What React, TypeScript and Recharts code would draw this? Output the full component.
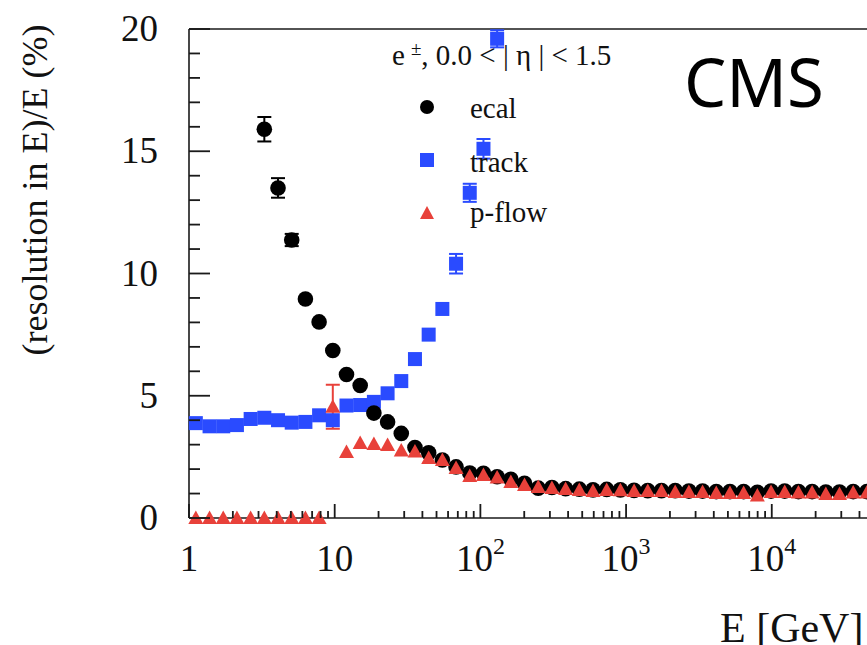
import React from "react";
import {
  ScatterChart,
  Scatter,
  XAxis,
  YAxis,
  ErrorBar,
  ReferenceLine,
  Legend,
} from "recharts";

// bin centres in E [GeV]
const energy = [
  1.114, 1.384, 1.718, 2.133, 2.649, 3.289, 4.083, 5.07, 6.295, 7.816,
  9.705, 12.05, 14.96, 18.58, 23.07, 28.64, 35.56, 44.16, 54.83, 68.08,
  84.53, 105, 130.3, 161.8, 200.9, 249.5, 309.7, 384.6, 477.5, 592.9,
  736.2, 914.1, 1135, 1409, 1750, 2173, 2698, 3350, 4159, 5164,
  6412, 7962, 9886, 12270, 15240, 18920, 23500, 29170, 36220, 44970,
];

const ecal = [
  null, null, null, null, null, 15.9, 13.5, 11.37, 8.96, 8.02,
  6.85, 5.87, 5.42, 4.29, 3.93, 3.46, 2.88, 2.67, 2.37, 2.09,
  1.84, 1.83, 1.69, 1.58, 1.42, 1.22, 1.25, 1.2, 1.18, 1.15,
  1.17, 1.15, 1.13, 1.12, 1.12, 1.12, 1.1, 1.1, 1.08, 1.08,
  1.08, 1.05, 1.1, 1.1, 1.08, 1.08, 1.06, 1.06, 1.08, 1.08,
];
const ecalErr = [
  0, 0, 0, 0, 0, 0.5, 0.4, 0.25, 0, 0,
  0, 0, 0, 0, 0, 0, 0, 0, 0, 0,
  0, 0, 0, 0, 0, 0, 0, 0, 0, 0,
  0, 0, 0, 0, 0, 0, 0, 0, 0, 0,
  0, 0, 0, 0, 0, 0, 0, 0, 0, 0,
];

const track = [
  3.88, 3.75, 3.75, 3.8, 4.05, 4.1, 4.0, 3.9, 3.93, 4.2,
  4.0, 4.6, 4.62, 4.75, 5.1, 5.6, 6.5, 7.5, 8.55, 10.4,
  13.3, 15.1, 19.6, null, null, null, null, null, null, null,
  null, null, null, null, null, null, null, null, null, null,
  null, null, null, null, null, null, null, null, null, null,
];
const trackErr = [
  0, 0, 0, 0, 0, 0, 0, 0, 0, 0,
  0, 0, 0, 0, 0, 0, 0, 0, 0, 0.4,
  0.37, 0.4, 0.35, 0, 0, 0, 0, 0, 0, 0,
  0, 0, 0, 0, 0, 0, 0, 0, 0, 0,
  0, 0, 0, 0, 0, 0, 0, 0, 0, 0,
];

const pflow = [
  0, 0, 0, 0, 0, 0, 0, 0, 0, 0,
  4.55, 2.7, 3.07, 3.03, 2.99, 2.76, 2.72, 2.45, 2.37, 2.05,
  1.72, 1.76, 1.66, 1.47, 1.35, 1.27, 1.23, 1.19, 1.15, 1.1,
  1.15, 1.13, 1.1, 1.1, 1.1, 1.06, 1.06, 1.06, 1.02, 1.02,
  1.02, 0.92, 1.06, 1.06, 1.04, 1.04, 0.98, 0.98, 1.04, 1.04,
];
const pflowErr = [
  0, 0, 0, 0, 0, 0, 0, 0, 0, 0,
  0.9, 0, 0, 0, 0, 0, 0, 0, 0, 0,
  0, 0, 0, 0, 0, 0, 0, 0, 0, 0,
  0, 0, 0, 0, 0, 0, 0, 0, 0, 0,
  0, 0, 0, 0, 0, 0, 0, 0, 0, 0,
];

const yTicks = [0, 1, 2, 3, 4, 5, 6, 7, 8, 9, 10, 11, 12, 13, 14, 15, 16, 17, 18, 19, 20];
const yMajor = [0, 5, 10, 15, 20];
const xTicks = [
  1, 2, 3, 4, 5, 6, 7, 8, 9,
  10, 20, 30, 40, 50, 60, 70, 80, 90,
  100, 200, 300, 400, 500, 600, 700, 800, 900,
  1000, 2000, 3000, 4000, 5000, 6000, 7000, 8000, 9000,
  10000, 20000, 30000, 40000,
];
const xMajor = [1, 10, 100, 1000, 10000];
const xExp = ["", "", "2", "3", "4"];

const BLUE = "#2a4bff";
const RED = "#e8413a";
const INK = "#1a1a1a";
const SERIF = "'Liberation Serif', 'Times New Roman', serif";
const AXIS_X = 189;
const AXIS_Y = 518;

const build = (vals: (number | null)[], errs: number[]) =>
  energy
    .map((e, i) => ({ e, v: vals[i], err: errs[i] }))
    .filter((d) => d.v !== null);

const dot = (p: any) => <circle cx={p.cx} cy={p.cy} r={7.8} fill="#000" />;
const box = (p: any) => (
  <rect x={p.cx - 7} y={p.cy - 7} width={14} height={14} fill={BLUE} />
);
const tri = (p: any) => (
  <polygon
    points={`${p.cx},${p.cy - 7.5} ${p.cx - 7.5},${p.cy + 6} ${p.cx + 7.5},${p.cy + 6}`}
    fill={RED}
  />
);

// tick marks point into the frame; major ones are longer
const renderXTick = (props: any) => {
  const { x, payload } = props;
  const i = xMajor.indexOf(payload.value);
  const major = i >= 0;
  return (
    <g>
      <rect x={x - 0.9} y={AXIS_Y - (major ? 14 : 7)} width={1.8} height={major ? 14 : 7} fill={INK} />
      {major && (
        <text x={x} y={571} textAnchor="middle" fontFamily={SERIF} fontSize={37} fill="#111">
          {i === 0 ? "1" : "10"}
          {xExp[i] && (
            <tspan dy={-17} fontSize={24}>
              {xExp[i]}
            </tspan>
          )}
        </text>
      )}
    </g>
  );
};

const renderYTick = (props: any) => {
  const { y, payload } = props;
  const major = yMajor.includes(payload.value);
  return (
    <g>
      <rect x={AXIS_X} y={y - 0.9} width={major ? 21 : 11} height={1.8} fill={INK} />
      {major && (
        <text x={158} y={y + 12} textAnchor="end" fontFamily={SERIF} fontSize={37} fill="#111">
          {payload.value}
        </text>
      )}
    </g>
  );
};

const legendItems = [
  { name: "ecal", shape: "circle" },
  { name: "track", shape: "square" },
  { name: "p-flow", shape: "triangle" },
];

const renderLegend = () => (
  <svg width={260} height={210} style={{ overflow: "visible", display: "block" }}>
    <text x={7} y={35} fontFamily={SERIF} fontSize={29} fill="#111">
      e
      <tspan dx={6} dy={-10} fontSize={19}>±</tspan>
      <tspan dy={10}>, 0.0 &lt; | η | &lt; 1.5</tspan>
    </text>
    {legendItems.map((it, i) => {
      const cy = [77, 130, 183][i];
      const ty = [88, 142, 192][i];
      return (
        <g key={it.name}>
          {it.shape === "circle" && <circle cx={42} cy={cy} r={7} fill="#000" />}
          {it.shape === "square" && <rect x={35} y={cy - 7} width={14} height={14} fill={BLUE} />}
          {it.shape === "triangle" && (
            <polygon points={`42,${cy - 7} 35,${cy + 6} 49,${cy + 6}`} fill={RED} />
          )}
          <text x={85} y={ty} fontFamily={SERIF} fontSize={29} fill="#111">
            {it.name}
          </text>
        </g>
      );
    })}
  </svg>
);

export default function App() {
  return (
    <div
      style={{
        position: "absolute",
        left: 0,
        top: 0,
        width: 867,
        height: 645,
        overflow: "hidden",
        background: "#fff",
      }}
    >
      <ScatterChart
        width={880}
        height={645}
        margin={{ top: 29, right: 6.4, bottom: 87, left: 129 }}
      >
        <XAxis
          type="number"
          dataKey="e"
          scale="log"
          domain={[1, 50000]}
          ticks={xTicks}
          interval={0}
          height={40}
          tickLine={false}
          tick={renderXTick}
          axisLine={{ stroke: INK, strokeWidth: 1.6 }}
          label={{
            content: () => (
              <text x={720} y={642} fontFamily={SERIF} fontSize={42} fill="#111">
                E [GeV]
              </text>
            ),
          }}
        />
        <YAxis
          type="number"
          dataKey="v"
          domain={[0, 20]}
          ticks={yTicks}
          interval={0}
          width={60}
          tickLine={false}
          tick={renderYTick}
          axisLine={{ stroke: INK, strokeWidth: 1.6 }}
          label={{
            content: () => (
              <text
                x={35}
                y={190}
                transform="rotate(-90 35 190)"
                textAnchor="middle"
                dominantBaseline="central"
                fontFamily={SERIF}
                fontSize={36}
                fill="#111"
              >
                (resolution in E)/E (%)
              </text>
            ),
          }}
        />
        <ReferenceLine y={20} stroke={INK} strokeWidth={1.6} />
        <Legend
          layout="vertical"
          align="center"
          verticalAlign="middle"
          content={renderLegend}
          wrapperStyle={{ left: 385, top: 30, width: 260, height: 210 }}
        />
        <Scatter name="track" data={build(track, trackErr)} shape={box} isAnimationActive={false}>
          <ErrorBar dataKey="err" direction="y" width={7} stroke={BLUE} strokeWidth={2} />
        </Scatter>
        <Scatter name="ecal" data={build(ecal, ecalErr)} shape={dot} isAnimationActive={false}>
          <ErrorBar dataKey="err" direction="y" width={7} stroke="#000" strokeWidth={2} />
        </Scatter>
        <Scatter name="p-flow" data={build(pflow, pflowErr)} shape={tri} isAnimationActive={false}>
          <ErrorBar dataKey="err" direction="y" width={7} stroke={RED} strokeWidth={2} />
        </Scatter>
      </ScatterChart>
      <div
        style={{
          position: "absolute",
          left: 684,
          top: 36,
          fontFamily: "'Noto Sans', sans-serif",
          fontSize: 67,
          lineHeight: "90px",
          color: "#000",
        }}
      >
        CMS
      </div>
    </div>
  );
}
